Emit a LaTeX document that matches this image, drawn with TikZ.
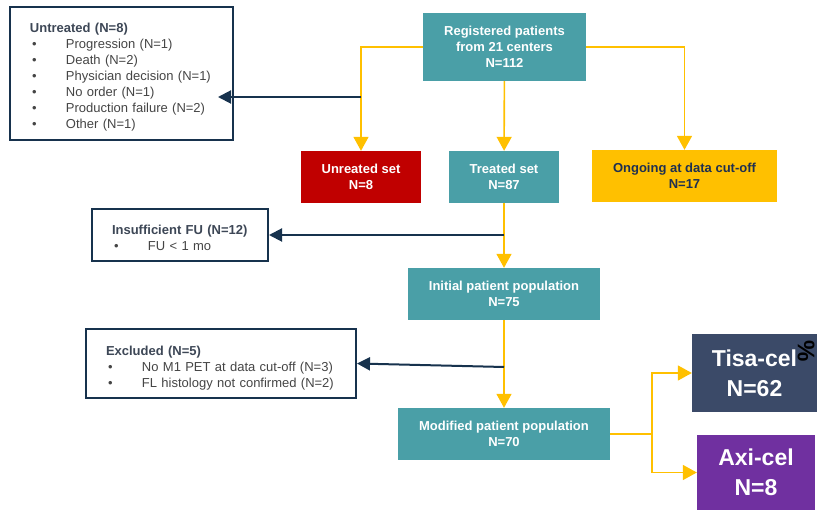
\documentclass[tikz,border=0pt]{standalone}
\usepackage{fontspec}
\setmainfont{Liberation Sans}
\usetikzlibrary{arrows.meta}
\definecolor{CARTTeal}{HTML}{4A9FA7}
\definecolor{CARTRed}{HTML}{C00000}
\definecolor{CARTGold}{HTML}{FFC000}
\definecolor{CARTNavy}{HTML}{17324D}
\definecolor{CARTInk}{HTML}{1F3050}
\definecolor{CARTSlate}{HTML}{3B4A68}
\definecolor{CARTPurple}{HTML}{7030A0}
\definecolor{CARTHead}{HTML}{3D4756}
\definecolor{CARTGrey}{HTML}{454545}
\newcommand{\bitem}[1]{\makebox[36pt][l]{\hspace{2pt}\textbullet}#1}
\newcommand{\whyhead}[2][16pt]{\textcolor{CARTHead}{\rule{0pt}{#1}\textbf{#2}}}

\begin{document}
\begin{tikzpicture}[x=1pt,y=-1pt,
  setbox/.style={fill=#1,text=white,align=center,inner sep=0pt,font=\fontsize{13}{16}\selectfont\bfseries},
  armbox/.style={fill=#1,text=white,align=center,inner sep=0pt,font=\fontsize{23}{30}\selectfont\bfseries},
  whybox/.style={draw=CARTNavy,line width=2pt,fill=white,text=CARTGrey,align=left,inner xsep=20pt,inner ysep=0pt,font=\fontsize{13}{16}\selectfont},
  flow/.style={draw=CARTGold,line width=1.6pt,-{Triangle[length=14pt,width=15pt]}},
  exit/.style={draw=CARTNavy,line width=2pt,-{Triangle[length=13pt,width=13pt]}}]
  \useasboundingbox[fill=white] (0,0) rectangle (817,510);
  % main column
  \node[setbox=CARTTeal,minimum width=163pt,minimum height=68pt] (reg) at (504.5,47) {Registered patients\\from 21 centers\\N=112};
  \node[setbox=CARTRed,minimum width=120pt,minimum height=52pt] (unr) at (361,177) {Unreated set\\N=8};
  \node[setbox=CARTTeal,minimum width=110pt,minimum height=52pt] (tre) at (504,177) {Treated set\\N=87};
  \node[setbox=CARTGold,text=CARTInk,minimum width=185pt,minimum height=52pt] (ong) at (684.5,176) {Ongoing at data cut-off\\N=17};
  \node[setbox=CARTTeal,minimum width=192pt,minimum height=52pt] (ini) at (504,294) {Initial patient population\\N=75};
  \node[setbox=CARTTeal,minimum width=212pt,minimum height=52pt] (mod) at (504,434) {Modified patient population\\N=70};
  \node[armbox=CARTSlate,minimum width=125pt,minimum height=78pt] (tis) at (754.5,373) {Tisa-cel\\N=62};
  \node[armbox=CARTPurple,minimum width=118pt,minimum height=75pt] (axi) at (756,472.5) {Axi-cel\\N=8};
  \node[font=\fontsize{24}{24}\selectfont\bfseries,rotate=-90] (pct) at (806,351) {\%};
  % reasons
  \node[whybox,text width=183pt,minimum height=133pt] (unt) at (121.5,73.5) {\whyhead{Untreated (N=8)}\\
    \bitem{Progression (N=1)}\\ \bitem{Death (N=2)}\\ \bitem{Physician decision (N=1)}\\
    \bitem{No order (N=1)}\\ \bitem{Production failure (N=2)}\\ \bitem{Other (N=1)}};
  \node[whybox,text width=136pt,minimum height=52pt] (ins) at (180,235) {\whyhead{Insufficient FU (N=12)}\\
    \bitem{FU < 1 mo}};
  \node[whybox,text width=230pt,minimum height=69pt] (exc) at (221,363.5) {\whyhead[19pt]{Excluded (N=5)}\\
    \bitem{No M1 PET at data cut-off (N=3)}\\ \bitem{FL histology not confirmed (N=2)}};
  % flow
  \draw[flow] (reg.west) -| (unr.north);
  \draw[flow] (reg) -- (tre);
  \draw[flow] (reg.east) -| (ong.north);
  \draw[flow] (tre) -- (ini);
  \draw[flow] (ini) -- (mod);
  \draw[flow] (mod.east) -- ++(42,0) |- (tis.west);
  \draw[flow] (mod.east) -- ++(42,0) |- (axi.west);
  % drop-outs
  \coordinate (cutA) at (361,97);
  \coordinate (cutB) at (504,235);
  \coordinate (cutC) at (504,367);
  \draw[exit,shorten >=-16pt] (cutA) -- (cutA -| unt.east);
  \draw[exit] (cutB) -- (cutB -| ins.east);
  \draw[exit] (cutC) -- (exc.east);
\end{tikzpicture}
\end{document}
